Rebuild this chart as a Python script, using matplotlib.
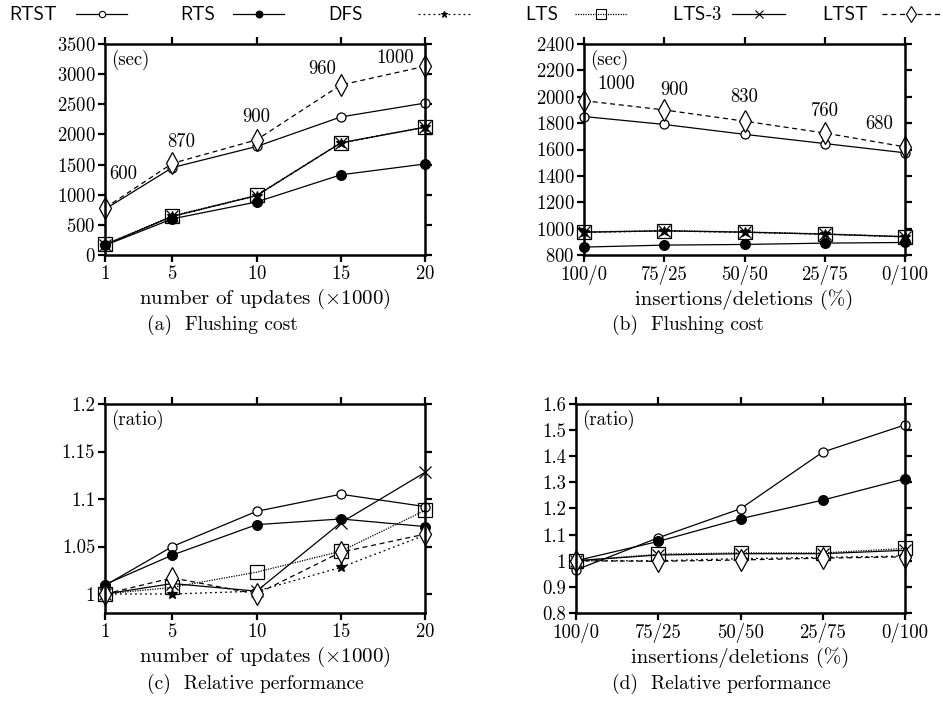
import matplotlib
matplotlib.use("Agg")
import matplotlib.pyplot as plt
from matplotlib.lines import Line2D

plt.rcParams['font.family'] = 'cmr10'
plt.rcParams['mathtext.fontset'] = 'cm'
plt.rcParams['axes.formatter.use_mathtext'] = True
plt.rcParams['font.size'] = 13.5

# x axes
updates = [1, 5, 10, 15, 20]
mix_labels = ['100/0', '75/25', '50/50', '25/75', '0/100']
mix_pos = [0, 1, 2, 3, 4]

# (a) flushing cost vs number of updates (sec)
a_rtst = [760, 1450, 1800, 2290, 2520]
a_rts = [160, 600, 880, 1330, 1510]
a_dfs = [170, 640, 985, 1860, 2120]
a_lts = [175, 650, 990, 1860, 2120]
a_lts3 = [170, 640, 985, 1860, 2120]
a_ltst = [780, 1520, 1910, 2820, 3130]
a_notes = ['600', '870', '900', '960', '1000']
a_note_x = [2.1, 5.5, 10.0, 13.9, 18.2]
a_note_y = [1340, 1880, 2290, 3090, 3270]

# (b) flushing cost vs insertions/deletions (sec)
b_rtst = [1850, 1790, 1715, 1645, 1575]
b_rts = [860, 875, 880, 890, 895]
b_dfs = [972, 982, 972, 958, 938]
b_lts = [975, 985, 975, 960, 940]
b_lts3 = [973, 983, 973, 958, 938]
b_ltst = [1970, 1900, 1815, 1725, 1620]
b_notes = ['1000', '900', '830', '760', '680']
b_note_x = [0.4, 1.12, 2.0, 3.0, 3.68]
b_note_y = [2096, 2051, 1996, 1892, 1791]

# (c) relative performance vs number of updates (ratio)
c_rtst = [1.009, 1.050, 1.087, 1.105, 1.092]
c_rts = [1.010, 1.041, 1.073, 1.079, 1.071]
c_dfs = [1.000, 1.000, 1.003, 1.028, 1.062]
c_lts = [1.000, 1.007, 1.023, 1.045, 1.088]
c_lts3 = [1.000, 1.011, 1.003, 1.075, 1.128]
c_ltst = [1.000, 1.017, 1.000, 1.044, 1.063]

# (d) relative performance vs insertions/deletions (ratio)
d_rtst = [0.965, 1.088, 1.199, 1.416, 1.520]
d_rts = [1.000, 1.074, 1.161, 1.232, 1.314]
d_dfs = [1.000, 1.000, 1.008, 1.013, 1.018]
d_lts = [1.000, 1.025, 1.030, 1.030, 1.047]
d_lts3 = [1.000, 1.022, 1.027, 1.027, 1.040]
d_ltst = [1.000, 0.998, 1.003, 1.010, 1.015]

a_yticks = [0, 500, 1000, 1500, 2000, 2500, 3000, 3500]
b_yticks = [800, 1000, 1200, 1400, 1600, 1800, 2000, 2200, 2400]
c_yticks = [1.0, 1.05, 1.1, 1.15, 1.2]
c_ylabels = ['1', '1.05', '1.1', '1.15', '1.2']
d_yticks = [0.8, 0.9, 1.0, 1.1, 1.2, 1.3, 1.4, 1.5, 1.6]
d_ylabels = ['0.8', '0.9', '1', '1.1', '1.2', '1.3', '1.4', '1.5', '1.6']

series_names = ['RTST', 'RTS', 'DFS', 'LTS', 'LTS-3', 'LTST']
legend_labels = ['RTST', 'RTS', 'DFS', 'LTS', 'LTS-$3$', 'LTST']
styles = {
    'RTST': dict(ls='-', marker='o', mfc='white', ms=6.5),
    'RTS': dict(ls='-', marker='o', mfc='black', ms=7),
    'DFS': dict(ls=(0, (1.5, 2.5)), marker='*', mfc='black', ms=7),
    'LTS': dict(ls=(0, (1, 1)), marker='s', mfc='none', ms=10),
    'LTS-3': dict(ls='-', marker='x', mfc='black', ms=9),
    'LTST': dict(ls=(0, (4, 3)), marker='d', mfc='white', ms=11),
}

W, H = 943, 720
fig = plt.figure(figsize=(W / 100, H / 100), dpi=100)


def add_axes(left, right, top, bottom):
    return fig.add_axes([left / W, 1 - bottom / H, (right - left) / W, (bottom - top) / H])


def style_axes(ax):
    for s in ax.spines.values():
        s.set_linewidth(1.8)
    ax.tick_params(direction='out', length=5, width=1.6, top=True, right=True,
                   labeltop=False, labelright=False, pad=2)


def draw(ax, x, data):
    for name, vals in zip(series_names, data):
        st = styles[name]
        ax.plot(x, vals, color='black', lw=0.9, ls=st['ls'], marker=st['marker'],
                mfc=st['mfc'], mec='black', ms=st['ms'], mew=0.9, clip_on=False)


ax_a = add_axes(105, 425, 44, 255)
ax_b = add_axes(584, 905, 44, 255)
ax_c = add_axes(105, 425, 404, 613)
ax_d = add_axes(576, 905, 404, 613)

# (a)
draw(ax_a, updates, [a_rtst, a_rts, a_dfs, a_lts, a_lts3, a_ltst])
ax_a.set_xlim(1, 20)
ax_a.set_ylim(0, 3500)
ax_a.set_xticks(updates)
ax_a.set_yticks(a_yticks)
for t, x, y in zip(a_notes, a_note_x, a_note_y):
    ax_a.text(x, y, t, ha='center', va='center')
ax_a.text(0.02, 0.97, '(sec)', transform=ax_a.transAxes, ha='left', va='top')
ax_a.set_xlabel(r'number of updates ($\times$1000)', labelpad=3, fontsize=15)

# (b)
draw(ax_b, mix_pos, [b_rtst, b_rts, b_dfs, b_lts, b_lts3, b_ltst])
ax_b.set_xlim(0, 4)
ax_b.set_ylim(800, 2400)
ax_b.set_xticks(mix_pos)
ax_b.set_xticklabels(mix_labels)
ax_b.set_yticks(b_yticks)
for t, x, y in zip(b_notes, b_note_x, b_note_y):
    ax_b.text(x, y, t, ha='center', va='center')
ax_b.text(0.02, 0.97, '(sec)', transform=ax_b.transAxes, ha='left', va='top')
ax_b.set_xlabel('insertions/deletions (%)', labelpad=3, fontsize=15)

# (c)
draw(ax_c, updates, [c_rtst, c_rts, c_dfs, c_lts, c_lts3, c_ltst])
ax_c.set_xlim(1, 20)
ax_c.set_ylim(0.98, 1.2)
ax_c.set_xticks(updates)
ax_c.set_yticks(c_yticks)
ax_c.set_yticklabels(c_ylabels)
ax_c.text(0.02, 0.97, '(ratio)', transform=ax_c.transAxes, ha='left', va='top')
ax_c.set_xlabel(r'number of updates ($\times$1000)', labelpad=3, fontsize=15)

# (d)
draw(ax_d, mix_pos, [d_rtst, d_rts, d_dfs, d_lts, d_lts3, d_ltst])
ax_d.set_xlim(0, 4)
ax_d.set_ylim(0.8, 1.6)
ax_d.set_xticks(mix_pos)
ax_d.set_xticklabels(mix_labels)
ax_d.set_yticks(d_yticks)
ax_d.set_yticklabels(d_ylabels)
ax_d.text(0.02, 0.97, '(ratio)', transform=ax_d.transAxes, ha='left', va='top')
ax_d.set_xlabel('insertions/deletions (%)', labelpad=3, fontsize=15)

for ax in (ax_a, ax_b, ax_c, ax_d):
    style_axes(ax)

# captions under each panel
fig.text(147 / W, 1 - 325 / H, '(a)  Flushing cost', ha='left', va='center', fontsize=14)
fig.text(612 / W, 1 - 325 / H, '(b)  Flushing cost', ha='left', va='center', fontsize=14)
fig.text(147 / W, 1 - 684 / H, '(c)  Relative performance', ha='left', va='center', fontsize=14)
fig.text(612 / W, 1 - 684 / H, '(d)  Relative performance', ha='left', va='center', fontsize=14)

# legend across the top: label, then a short line sample with marker
text_right = [57, 215, 363, 558, 722, 868]
sample_span = [(76, 127), (233, 284), (418, 470), (575, 627), (732, 785), (882, 940)]
for name, lab, tx, (x0, x1) in zip(series_names, legend_labels, text_right, sample_span):
    st = styles[name]
    fig.text(tx / W, 1 - 15 / H, lab, ha='right', va='center', fontsize=13.5,
             family=['cmss10', 'DejaVu Sans'])
    fig.add_artist(Line2D([x0 / W, x1 / W], [1 - 14 / H, 1 - 14 / H], color='black',
                          lw=0.9, ls=st['ls'], transform=fig.transFigure))
    fig.add_artist(Line2D([(x0 + x1) / 2 / W], [1 - 14 / H], color='black', ls='none',
                          marker=st['marker'], mfc=st['mfc'], mec='black',
                          ms=st['ms'] * 0.7, mew=0.8, transform=fig.transFigure))

fig.savefig('out.png', dpi=100)
